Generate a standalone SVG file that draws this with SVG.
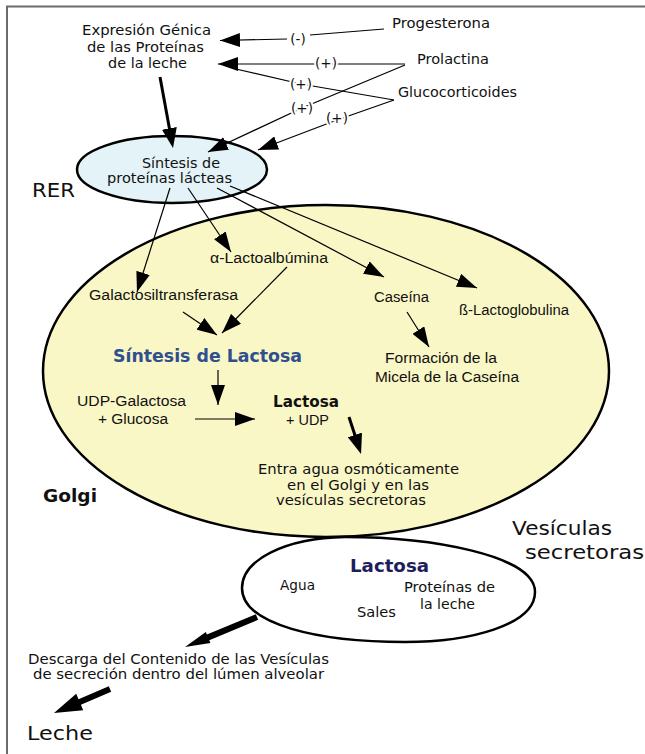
<svg xmlns="http://www.w3.org/2000/svg" width="645" height="754" viewBox="0 0 645 754">
<defs>
<style>
text { fill:#111; }
.v { font-family:"DejaVu Sans", Verdana, sans-serif; font-size:13.8px; }
.a { font-family:"Liberation Sans", Arial, sans-serif; font-size:15.5px; }
.b { font-family:"DejaVu Sans", Verdana, sans-serif; font-weight:bold; }
.big { font-family:"DejaVu Sans", Verdana, sans-serif; font-size:19px; }
.lab { font-family:"DejaVu Sans", Verdana, sans-serif; font-size:13.5px; text-anchor:middle; stroke:#fff; stroke-width:4; paint-order:stroke; stroke-linejoin:round; }
.ln { fill:none; stroke:#000; stroke-width:1.2; }
.tk { fill:none; stroke:#000; stroke-width:3; }
.shape { stroke:#000; stroke-width:2.5; }
</style>
<marker id="ah" viewBox="0 0 20 14" markerUnits="userSpaceOnUse" markerWidth="20" markerHeight="14" refX="20" refY="7" orient="auto"><path d="M0,0 L20,7 L0,14 Z" fill="#000"/></marker>
<marker id="ahk" viewBox="0 0 20 15" markerUnits="userSpaceOnUse" markerWidth="20" markerHeight="15" refX="15" refY="7.5" orient="auto"><path d="M0,0 L20,7.5 L0,15 Z" fill="#000"/></marker>
</defs>
<rect x="0" y="0" width="645" height="754" fill="#fff"/>
<path d="M7,754 V6.5 H645" stroke="#6b6b6b" stroke-width="2" fill="none"/>

<g id="golgi">
<ellipse class="shape" cx="326" cy="371" rx="283" ry="166" fill="#faf7c6"/>
<text class="b" x="43" y="502" font-size="17" textLength="54" lengthAdjust="spacingAndGlyphs">Golgi</text>
</g>
<g id="vesiculas">
<path class="shape" fill="#fff" d="M242,588 C242,560 285,538 345,537 C430,537 535,555 535,592 C535,625 470,642 405,642 C320,642 242,625 242,588 Z"/>
<text class="b" x="350" y="572" font-size="17" style="fill:#1e1e5c" textLength="79" lengthAdjust="spacingAndGlyphs">Lactosa</text>
<text class="v" x="280" y="590" textLength="35" lengthAdjust="spacingAndGlyphs">Agua</text>
<text class="v" x="404" y="592" textLength="91" lengthAdjust="spacingAndGlyphs">Proteínas de</text>
<text class="v" x="420" y="609" textLength="55" lengthAdjust="spacingAndGlyphs">la leche</text>
<text class="v" x="357" y="617" textLength="39" lengthAdjust="spacingAndGlyphs">Sales</text>
<text class="big" x="512" y="535" font-size="20" textLength="100" lengthAdjust="spacingAndGlyphs">Vesículas</text>
<text class="big" x="525" y="559" font-size="20" textLength="119" lengthAdjust="spacingAndGlyphs">secretoras</text>
</g>
<g id="rer">
<ellipse class="shape" cx="172" cy="169.5" rx="95" ry="33.5" fill="#e4f3f7"/>
<text class="v" x="142" y="168" textLength="78" lengthAdjust="spacingAndGlyphs">Síntesis de</text>
<text class="v" x="107" y="183" textLength="125" lengthAdjust="spacingAndGlyphs">proteínas lácteas</text>
<text class="big" x="32" y="197" textLength="43" lengthAdjust="spacingAndGlyphs">RER</text>
</g>
<g id="expresion">
<text class="v" x="82" y="35" textLength="129" lengthAdjust="spacingAndGlyphs">Expresión Génica</text>
<text class="v" x="87" y="52" textLength="117" lengthAdjust="spacingAndGlyphs">de las Proteínas</text>
<text class="v" x="108" y="68" textLength="79" lengthAdjust="spacingAndGlyphs">de la leche</text>
</g>
<g id="progesterona"><text class="v" x="392" y="28" textLength="98" lengthAdjust="spacingAndGlyphs">Progesterona</text></g>
<g id="prolactina"><text class="v" x="417" y="64" textLength="72" lengthAdjust="spacingAndGlyphs">Prolactina</text></g>
<g id="glucocorticoides"><text class="v" x="398" y="97" textLength="119" lengthAdjust="spacingAndGlyphs">Glucocorticoides</text></g>
<g id="galactosiltransferasa"><text class="a" x="89" y="300" textLength="149" lengthAdjust="spacingAndGlyphs">Galactosiltransferasa</text></g>
<g id="lactoalbumina"><text class="a" x="210" y="263" textLength="118" lengthAdjust="spacingAndGlyphs">α-Lactoalbúmina</text></g>
<g id="caseina"><text class="a" x="374" y="302" textLength="55" lengthAdjust="spacingAndGlyphs">Caseína</text></g>
<g id="lactoglobulina"><text class="a" x="459" y="315" textLength="110" lengthAdjust="spacingAndGlyphs">ß-Lactoglobulina</text></g>
<g id="micela">
<text class="a" x="385" y="363" textLength="112" lengthAdjust="spacingAndGlyphs">Formación de la</text>
<text class="a" x="375" y="382" textLength="144" lengthAdjust="spacingAndGlyphs">Micela de la Caseína</text>
</g>
<g id="sintesis-lactosa"><text class="b" x="113" y="362" font-size="17" style="fill:#2f4f8f" textLength="189" lengthAdjust="spacingAndGlyphs">Síntesis de Lactosa</text></g>
<g id="udp-galactosa">
<text class="a" x="77" y="406" textLength="109" lengthAdjust="spacingAndGlyphs">UDP-Galactosa</text>
<text class="a" x="98" y="424" textLength="70" lengthAdjust="spacingAndGlyphs">+ Glucosa</text>
</g>
<g id="lactosa-udp">
<text class="b" x="273" y="407" font-size="15" textLength="66" lengthAdjust="spacingAndGlyphs">Lactosa</text>
<text class="a" x="286" y="425" textLength="43" lengthAdjust="spacingAndGlyphs">+ UDP</text>
</g>
<g id="entra-agua">
<text class="v" x="258" y="474" textLength="201" lengthAdjust="spacingAndGlyphs">Entra agua osmóticamente</text>
<text class="v" x="287" y="490" textLength="142" lengthAdjust="spacingAndGlyphs">en el Golgi y en las</text>
<text class="v" x="276" y="505" textLength="150" lengthAdjust="spacingAndGlyphs">vesículas secretoras</text>
</g>
<g id="descarga">
<text class="v" x="28" y="664" font-size="13" textLength="301" lengthAdjust="spacingAndGlyphs">Descarga del Contenido de las Vesículas</text>
<text class="v" x="33" y="679" font-size="13" textLength="291" lengthAdjust="spacingAndGlyphs">de secreción dentro del lúmen alveolar</text>
</g>
<g id="leche"><text class="big" x="27" y="740" textLength="66" lengthAdjust="spacingAndGlyphs">Leche</text></g>

<g id="connectors">
<polyline class="ln" points="384,29 310,35"/>
<polyline class="ln" points="287,39 220,40.5" marker-end="url(#ah)"/>
<text class="lab" x="298" y="44">(-)</text>
<line class="ln" x1="405" y1="64" x2="218" y2="64" marker-end="url(#ah)"/>
<text class="lab" x="326" y="68">(+)</text>
<polyline class="ln" points="394,100 301,84 236,69"/>
<text class="lab" x="301" y="89">(+)</text>
<polyline class="ln" points="405,65 302,108 208,152" marker-end="url(#ah)"/>
<text class="lab" x="302" y="113">(+)</text>
<polyline class="ln" points="394,100 337,120 258,150" marker-end="url(#ah)"/>
<text class="lab" x="337" y="123">(+)</text>
<line class="tk" x1="160" y1="77" x2="172.1" y2="143.1" marker-end="url(#ahk)"/>
<line class="ln" x1="170" y1="188" x2="137" y2="292" marker-end="url(#ah)"/>
<line class="ln" x1="188" y1="188" x2="231" y2="252" marker-end="url(#ah)"/>
<line class="ln" x1="217" y1="188" x2="384" y2="277" marker-end="url(#ah)"/>
<line class="ln" x1="230" y1="186" x2="477" y2="288" marker-end="url(#ah)"/>
<line class="ln" x1="183" y1="312" x2="217" y2="335" marker-end="url(#ah)"/>
<line class="ln" x1="287" y1="267" x2="222" y2="333" marker-end="url(#ah)"/>
<line class="ln" x1="218" y1="370" x2="218" y2="405" stroke-width="1.5" marker-end="url(#ah)"/>
<line class="ln" x1="195" y1="419" x2="255" y2="419" marker-end="url(#ah)"/>
<line class="ln" x1="407" y1="312" x2="429" y2="347" marker-end="url(#ah)"/>
<line class="tk" x1="349" y1="417" x2="359.5" y2="449.2" marker-end="url(#ahk)"/>
<polygon fill="#000" points="255.8,614.2 206.9,634.6 205.8,631.9 185,647 210.4,642.9 209.3,640.2 258.2,619.8"/>
<polygon fill="#000" points="108.8,686.2 78.5,699.2 76.2,693.7 54,713 83.2,710.3 80.9,704.8 111.2,691.8"/>
</g>
</svg>
